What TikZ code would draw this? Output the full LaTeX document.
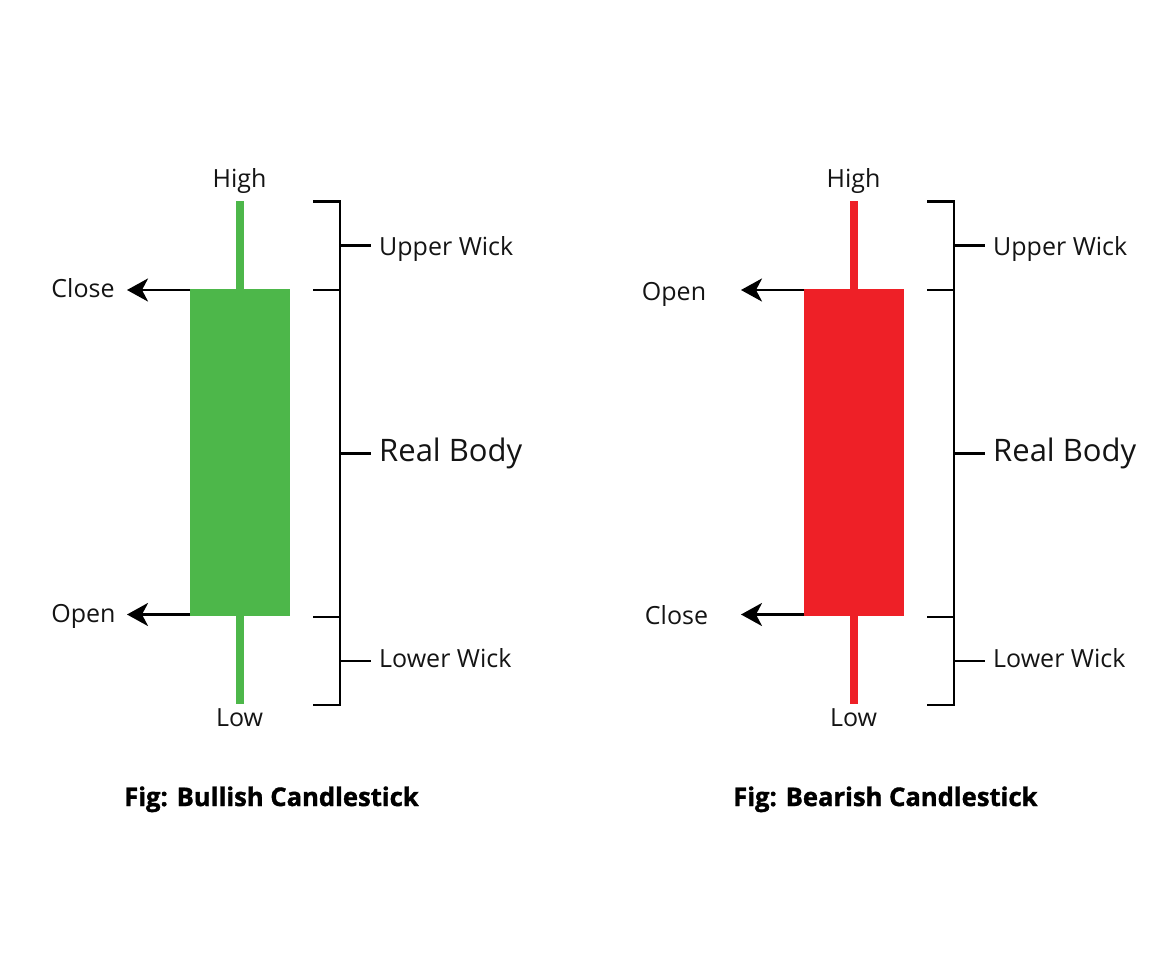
\documentclass[tikz,border=0pt]{standalone}
\usepackage{fontspec}
\setmainfont{Open Sans}[BoldFeatures={FakeBold=1.4}]
\usetikzlibrary{arrows.meta}
\definecolor{bull}{RGB}{77,183,74}
\definecolor{bear}{RGB}{238,32,39}
\definecolor{ink}{RGB}{20,20,20}
\tikzset{
  x=1pt,y=-1pt,
  solidbox/.style={draw=none,inner sep=0pt,outer sep=0pt},
  lbl/.style={inner sep=0pt,text=ink,font=\fontsize{25}{30}\selectfont},
  big/.style={inner sep=0pt,text=ink,font=\fontsize{31}{36}\selectfont},
  fig/.style={inner sep=0pt,text=black,font=\fontsize{25.6}{30}\selectfont\bfseries},
  brace/.style={line width=2.8pt,draw=black},
  pointer/.style={line width=2.8pt,draw=black,-{Stealth[length=21pt,width=23pt,inset=6pt]}}
}
% #1 prefix, #2 x offset, #3 colour, #4 upper price, #5 its x, #6 its y, #7 lower price, #8 its x, #9 its y
\newcommand{\candlestick}[9]{
  \begin{scope}[xshift=#2]
    \node[solidbox,fill=#3,minimum width=8pt,minimum height=88pt,anchor=north] (#1uw) at (239.6,201) {};
    \node[solidbox,fill=#3,minimum width=8pt,minimum height=88pt,anchor=north] (#1lw) at (239.6,616) {};
    \node[solidbox,fill=#3,minimum width=100pt,minimum height=327pt,anchor=north] (#1body) at (239.6,289) {};
    \coordinate (#1at) at (190,290);
    \coordinate (#1ab) at (190,614.5);
    \coordinate (#1tt) at (127,290);
    \coordinate (#1tb) at (127,614.5);
    \draw[pointer] (#1at) -- (#1tt);
    \draw[pointer] (#1ab) -- (#1tb);
    \node[lbl,anchor=base] (#1high) at (239.6,187) {High};
    \node[lbl,anchor=base] (#1low) at (239.6,726) {Low};
    \node[lbl,anchor=base] (#1up) at (#5,#6) {#4};
    \node[lbl,anchor=base] (#1dn) at (#8,#9) {#7};
    \coordinate (#1b1) at (313,201.5);
    \coordinate (#1b2) at (340,201.5);
    \coordinate (#1b3) at (340,705);
    \coordinate (#1b4) at (313,705);
    \coordinate (#1s1) at (340,290);
    \coordinate (#1e1) at (313,290);
    \coordinate (#1s2) at (340,617);
    \coordinate (#1e2) at (313,617);
    \coordinate (#1m1) at (340,245.5);
    \coordinate (#1n1) at (371,245.5);
    \coordinate (#1m2) at (340,453.5);
    \coordinate (#1n2) at (371,453.5);
    \coordinate (#1m3) at (340,661);
    \coordinate (#1n3) at (371,661);
    \draw[brace,line join=miter] (#1b1) -- (#1b2) -- (#1b3) -- (#1b4);
    \draw[brace] (#1e1) -- (#1s1);
    \draw[brace] (#1e2) -- (#1s2);
    \draw[brace] (#1m1) -- (#1n1);
    \draw[brace] (#1m2) -- (#1n2);
    \draw[brace] (#1m3) -- (#1n3);
    \node[lbl,anchor=base west] (#1uwl) at (379,255) {Upper Wick};
    \node[big,anchor=base west] (#1rb) at (379,461) {Real Body};
    \node[lbl,anchor=base west] (#1lwl) at (379,667) {Lower Wick};
  \end{scope}
}
\begin{document}
\begin{tikzpicture}
\useasboundingbox (0,0) rectangle (1176,980);
\fill[white] (0,0) rectangle (1176,980);
\candlestick{g}{0pt}{bull}{Close}{83}{297}{Open}{83.5}{622}
\candlestick{r}{614pt}{bear}{Open}{60}{300}{Close}{62.5}{624}
\node[fig,anchor=base west] (gfig) at (124,806) {Fig: Bullish Candlestick};
\node[fig,anchor=base west] (rfig) at (733,806) {Fig: Bearish Candlestick};
\end{tikzpicture}
\end{document}
